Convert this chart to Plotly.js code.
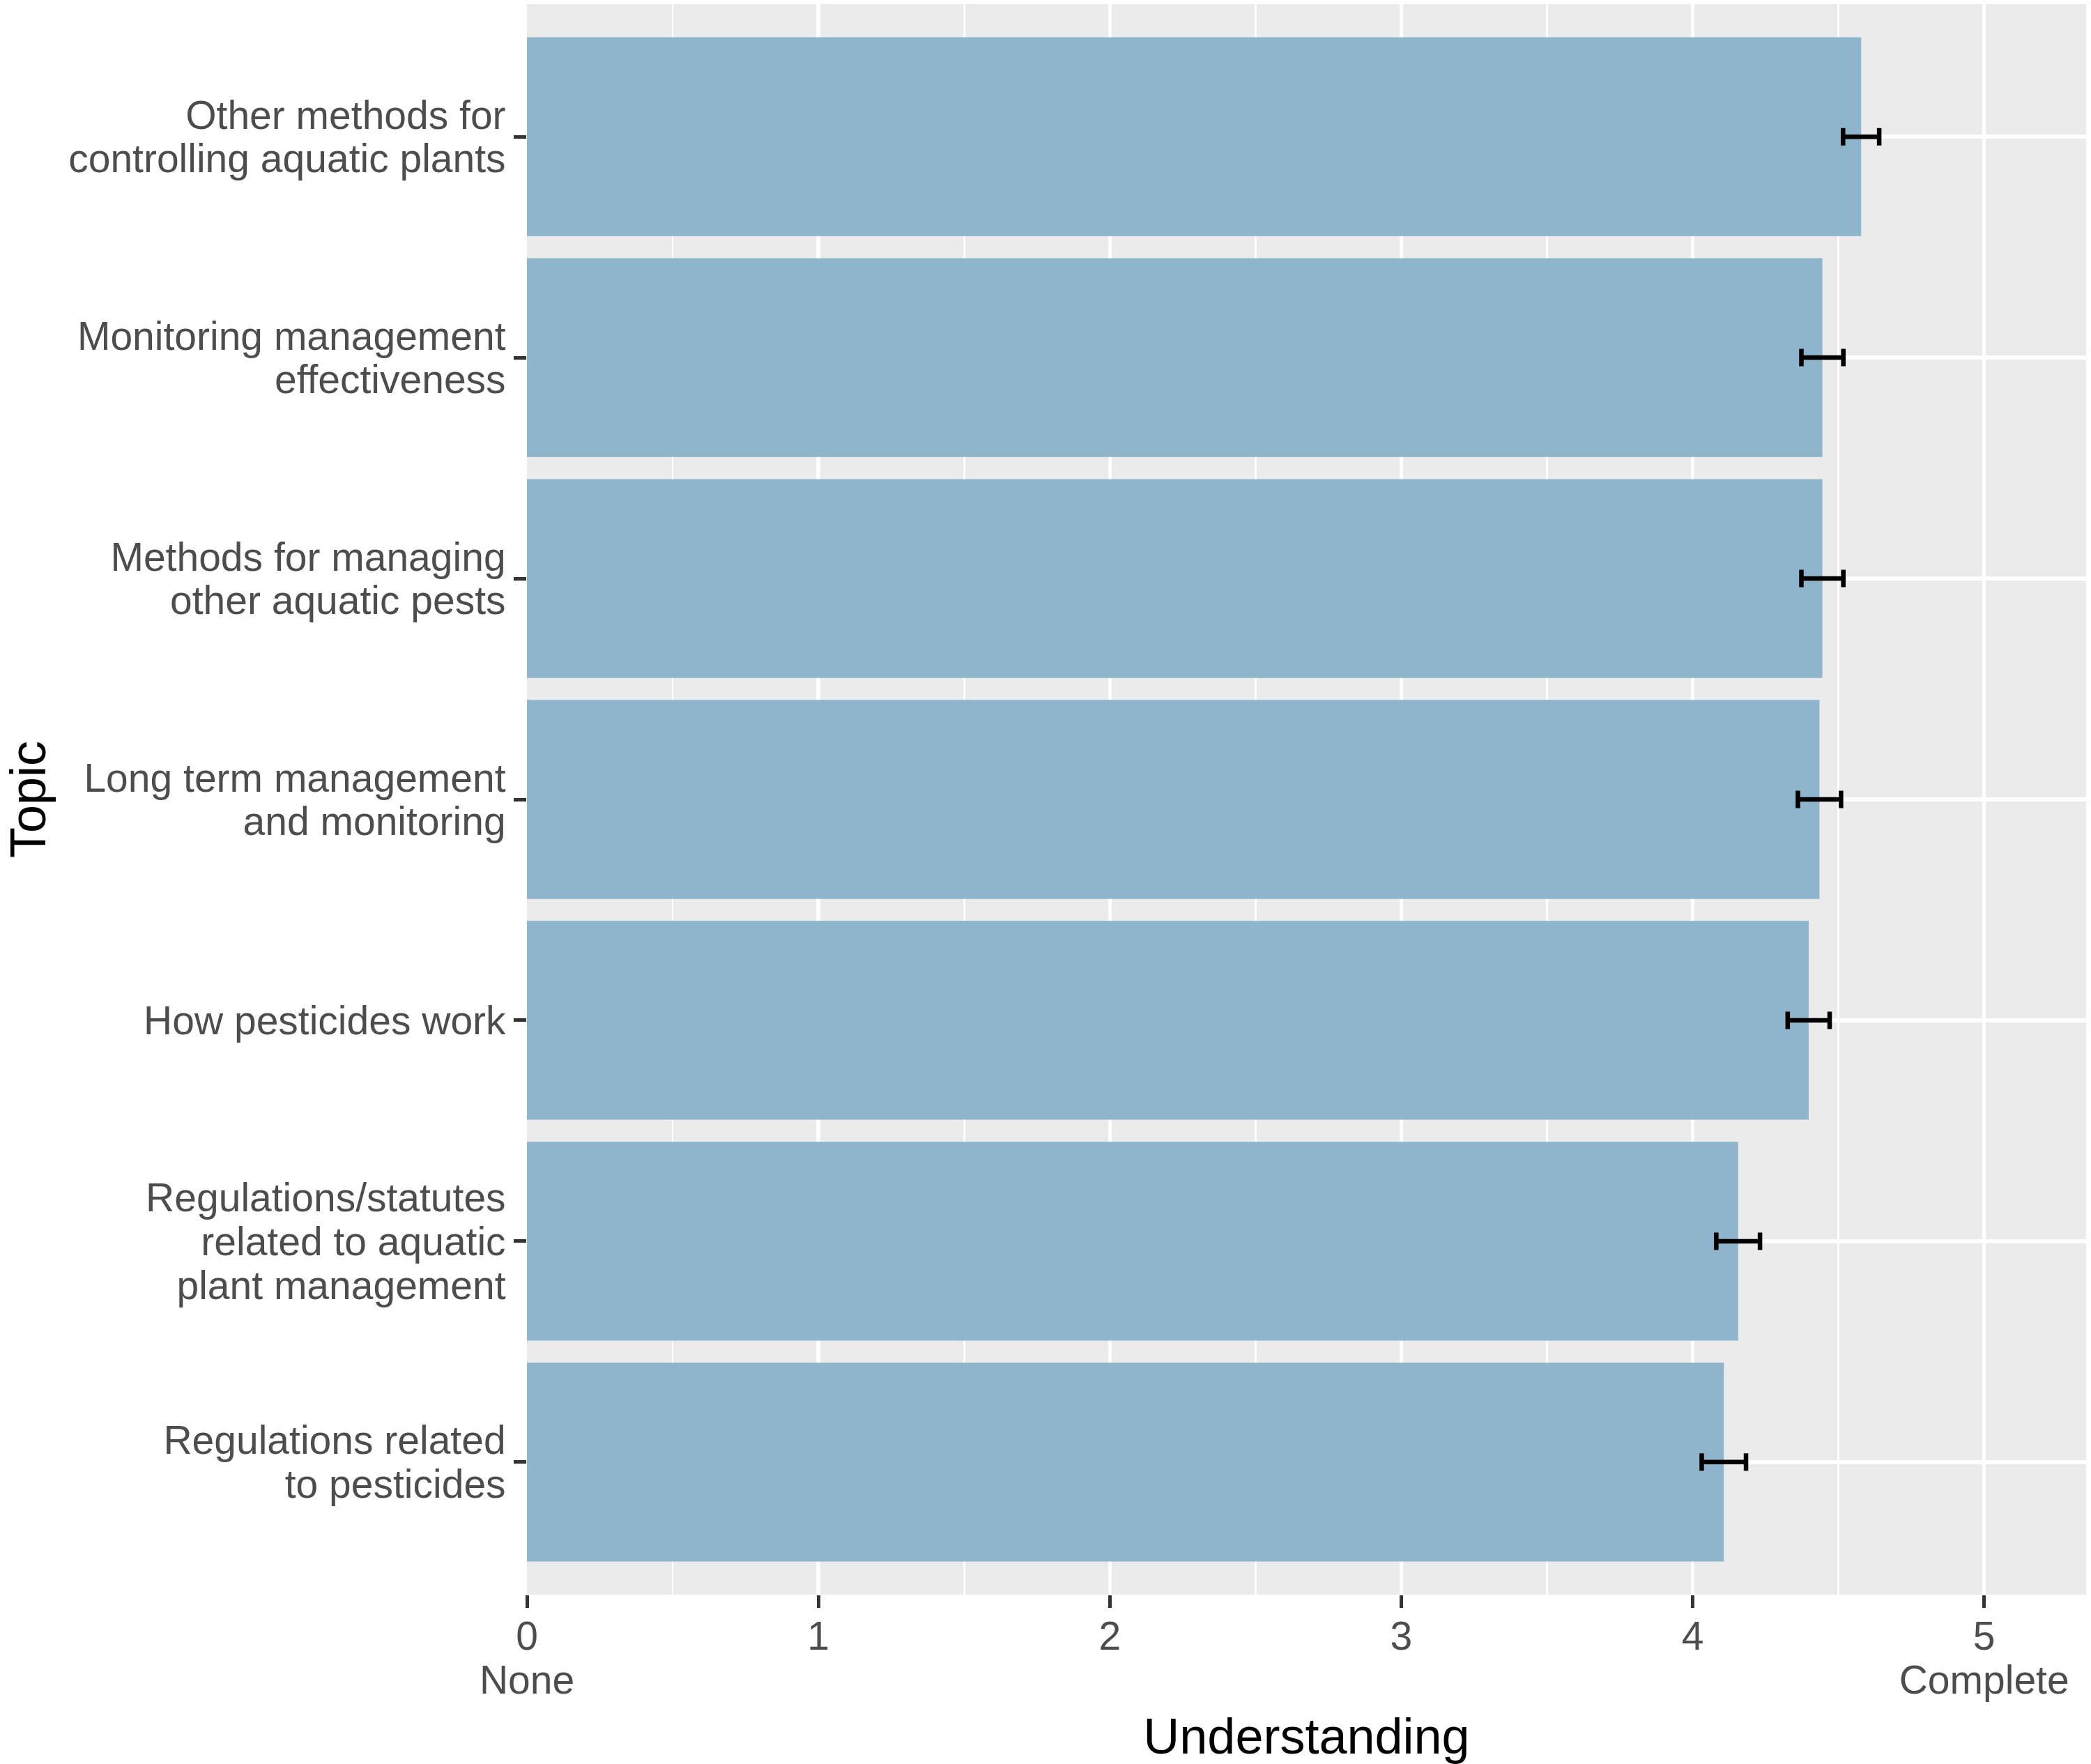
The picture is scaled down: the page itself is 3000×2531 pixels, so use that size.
<!DOCTYPE html>
<html>
<head>
<meta charset="utf-8">
<script src="https://cdn.plot.ly/plotly-3.0.1.min.js"></script>
<style>html,body{margin:0;padding:0;background:#fff;}#chart{width:3000px;height:2531px;}</style>
</head>
<body>
<div id="chart"></div>
<script>
// Data (top to bottom as shown)
const topics = [
  "Other methods for<br>controlling aquatic plants",
  "Monitoring management<br>effectiveness",
  "Methods for managing<br>other aquatic pests",
  "Long term management<br>and monitoring",
  "How pesticides work",
  "Regulations/statutes<br>related to aquatic<br>plant management",
  "Regulations related<br>to pesticides"
];
const understanding = [4.578, 4.445, 4.445, 4.435, 4.398, 4.156, 4.107];
const stdErr = [0.062, 0.072, 0.072, 0.074, 0.072, 0.075, 0.076];
const xTickVals = [0, 1, 2, 3, 4, 5];
const xTickText = ["0<br>None", "1", "2", "3", "4", "5<br>Complete"];
const xMinorVals = [0.5, 1.5, 2.5, 3.5, 4.5];

const FONT = "Liberation Sans, Arial, Helvetica, sans-serif";

const trace = {
  type: "bar",
  orientation: "h",
  x: understanding,
  y: topics,
  marker: { color: "#8EB5CB", line: { width: 0 } },
  error_x: { type: "data", array: stdErr, visible: true, color: "#000000", thickness: 6.5, width: 12.5 },
  hoverinfo: "x+y"
};

const layout = {
  width: 3000,
  height: 2531,
  margin: { l: 756, r: 7, t: 6, b: 243, pad: 0 },
  paper_bgcolor: "#FFFFFF",
  plot_bgcolor: "#EBEBEB",
  bargap: 0.1,
  showlegend: false,
  font: { family: FONT, color: "#4D4D4D", size: 57 },
  xaxis: {
    range: [0, 5.35],
    tickmode: "array",
    tickvals: xTickVals,
    ticktext: xTickText,
    ticks: "outside",
    ticklen: 18,
    tickwidth: 5,
    tickcolor: "#333333",
    ticklabelstandoff: -8,
    tickfont: { family: FONT, size: 57, color: "#4D4D4D" },
    showgrid: true,
    gridcolor: "#FFFFFF",
    gridwidth: 5.5,
    zeroline: false,
    showline: false,
    minor: { tickmode: "array", tickvals: xMinorVals, showgrid: true, gridcolor: "#FFFFFF", gridwidth: 2.8, ticks: "" },
    title: { text: "Understanding", font: { family: FONT, size: 72, color: "#000000" }, standoff: 18 },
    automargin: false
  },
  yaxis: {
    type: "category",
    categoryorder: "array",
    categoryarray: topics,
    range: [6.6, -0.6],
    ticks: "outside",
    ticklen: 18,
    tickwidth: 5,
    tickcolor: "#333333",
    tickfont: { family: FONT, size: 57, color: "#4D4D4D" },
    showgrid: true,
    gridcolor: "#FFFFFF",
    gridwidth: 5.5,
    zeroline: false,
    showline: false,
    title: { text: "Topic", font: { family: FONT, size: 72, color: "#000000" }, standoff: 16 },
    automargin: false
  }
};

// Tighten the line spacing of multi-line tick labels (ggplot uses ~1.1em instead of Plotly's 1.3em)
function tightenLines(gd) {
  const PL = 1.3, K = 1.1;
  gd.querySelectorAll(".ytick text").forEach(function (t) {
    const lines = t.querySelectorAll("tspan.line");
    const n = lines.length;
    if (n < 2) return;
    const off = 0.5 * (n - 1) * (PL - K);
    lines.forEach(function (l, i) { l.setAttribute("dy", (i * K + off) + "em"); });
  });
  gd.querySelectorAll(".xtick text").forEach(function (t) {
    const lines = t.querySelectorAll("tspan.line");
    if (lines.length < 2) return;
    lines.forEach(function (l, i) { l.setAttribute("dy", (i * K) + "em"); });
  });
}

Plotly.newPlot("chart", [trace], layout, { staticPlot: true, displayModeBar: false })
  .then(function (gd) { tightenLines(gd); });
</script>
</body>
</html>
